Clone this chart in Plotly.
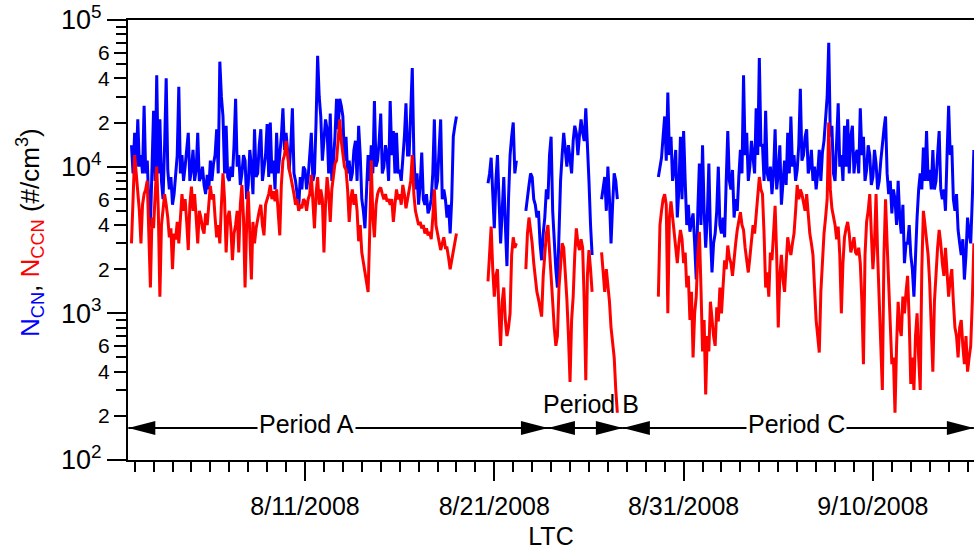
import plotly.graph_objects as go
from datetime import datetime, timedelta

# ---------------- data (2-hour steps) ----------------
STEP_HOURS = 2
segment_starts = ["2008-08-01 20:00", "2008-08-20 16:00", "2008-08-22 16:00",
                  "2008-08-26 16:00", "2008-08-29 16:00"]

ncn_A = [14000, 9000, 17000, 10000, 21000, 10000, 12000, 9000, 26000, 9000,
         11000, 5500, 3900, 9000, 24000, 8000, 42000, 9000, 21000, 8000,
         6000, 14000, 40000, 9500, 7000, 8500, 5500, 6500, 8500, 12000,
         35000, 9000, 12000, 8000, 10000, 12500, 17000, 8000, 9500, 13000,
         8000, 9500, 17000, 8000, 8500, 10000, 7500, 6500, 8800, 7000,
         11000, 8000, 10500, 12000, 18000, 9000, 52000, 30000, 22000, 9000,
         19000, 8500, 8000, 10000, 8500, 14000, 29000, 10000, 12000, 7500,
         9000, 12000, 11000, 6000, 7500, 13000, 10000, 6500, 18000, 8500,
         9000, 14000, 18000, 8000, 9500, 12000, 19500, 8500, 20000, 9000,
         11000, 7000, 17000, 9000, 12000, 16000, 25000, 13000, 17000, 13000,
         9500, 14000, 25000, 9000, 8000, 6500, 5300, 8500, 7000, 10000,
         9500, 7000, 8500, 12000, 17000, 8000, 9000, 20000, 57000, 30000,
         22000, 11000, 16000, 21000, 18000, 9000, 23000, 8000, 11000, 16000,
         29000, 18000, 29000, 26000, 22000, 11000, 16000, 9000, 11000, 8000,
         9000, 13000, 15000, 8000, 19000, 12000, 6000, 5000, 3800, 8000,
         12000, 8000, 14000, 9000, 28000, 10000, 11000, 15000, 23000, 9000,
         10000, 14000, 12000, 8000, 28000, 12000, 17500, 9000, 17000, 9000,
         9500, 8000, 11000, 16000, 27000, 12000, 12000, 22000, 47000, 12000,
         7000, 9000, 5500, 7500, 12500, 6000, 5500, 6500, 4800, 5200,
         6000, 9000, 21000, 7000, 8000, 13000, 21000, 6000, 7000, 6000,
         4500, 5500, 3500, 6000, 16000, 19000, 22000]
nccn_A = [3000, 7000, 12000, 9000, 7000, 5000, 3000, 5500, 6500, 7000,
          8000, 4000, 1500, 4500, 3800, 6500, 10000, 5000, 1300, 4000,
          5000, 6500, 5500, 4500, 3300, 3800, 2000, 3500, 3200, 4200,
          3000, 4500, 6500, 5000, 6000, 4200, 2700, 5500, 7300, 5000,
          6500, 4500, 3000, 5000, 4500, 3800, 3500, 4800, 4000, 5500,
          7400, 6000, 6500, 4500, 3300, 4000, 3000, 5500, 9000, 6000,
          2600, 4500, 5000, 3800, 2300, 3500, 4000, 5000, 2600, 5500,
          7500, 4500, 1500, 4000, 6800, 3500, 1700, 4200, 3000, 3800,
          4500, 5000, 5500, 4000, 3400, 5500, 6000, 6500, 7500, 6000,
          6800, 5800, 7000, 5000, 3400, 7500, 11000, 12000, 15000, 12000,
          9500, 8500, 7500, 6500, 5500, 6000, 5000, 5500, 5200, 6000,
          5800, 5000, 6000, 6500, 8800, 6000, 3800, 6500, 8500, 5500,
          7000, 6000, 2600, 5500, 8500, 6500, 4200, 7000, 9000, 10500,
          11000, 16000, 21000, 15000, 12000, 10000, 9500, 7000, 4200, 6000,
          7000, 5500, 6500, 5000, 3100, 4000, 2600, 2200, 1900, 1600,
          1400, 3500, 11000, 4500, 3300, 5500, 6500, 7000, 7200, 6500,
          6000, 6500, 5800, 6000, 5500, 6000, 4200, 5500, 7000, 6000,
          6500, 5500, 7500, 6500, 5200, 6000, 7000, 8000, 12000, 6500,
          5000, 4500, 4000, 4200, 3800, 4000, 3500, 3800, 3400, 3600,
          3200, 4500, 7000, 4000, 3500, 3200, 2700, 3000, 3300, 2800,
          2800, 2400, 2000, 2300, 2600, 3000, 3500]

ncn_B1 = [7700, 9000, 11500, 6000, 3800, 8000, 12000, 6000, 3000, 5000,
          8500, 4000, 2100, 6000, 12000, 16000, 20000, 9000, 11000]
nccn_B1 = [1650, 2500, 3900, 2000, 1300, 1800, 2000, 1000, 600, 1200,
           1500, 900, 700, 800, 1000, 2500, 3300, 2800, 3000]

ncn_B2 = [5000, 6500, 7500, 9000, 8500, 6000, 5500, 4500, 5000, 3000,
          2300, 3500, 4500, 7000, 6000, 12000, 16000, 5000, 3000, 2000,
          1500, 4500, 8000, 12000, 17000, 13000, 10000, 14000, 11000, 9000,
          15000, 19000, 17000, 12000, 16500, 21000, 17000, 15000, 25000, 12000,
          8000, 4000, 2500]
nccn_B2 = [2000, 3500, 4500, 3800, 3000, 2200, 1700, 1400, 1250, 1100,
           950, 1800, 2700, 3500, 4000, 2800, 2000, 1200, 800, 600,
           700, 1500, 2100, 3000, 2800, 2000, 1250, 700, 340, 900,
           1300, 2500, 3800, 3000, 2700, 3200, 2800, 1200, 350, 1800,
           2700, 2000, 1400]

ncn_B3 = [6000, 7000, 8500, 5000, 10000, 6000, 3000, 5500, 9000, 8000, 6000]
nccn_B3 = [2600, 1800, 1400, 2000, 1600, 1200, 800, 600, 500, 300, 210]

ncn_C = [8500, 10000, 11500, 16000, 22000, 11000, 32000, 12000, 16000, 8000,
         9500, 13000, 4500, 7000, 16000, 6000, 17500, 8000, 4000, 5500,
         3600, 4200, 4800, 3000, 1700, 5000, 10500, 4000, 14000, 5000,
         2800, 4500, 10500, 3500, 1900, 3000, 3500, 5000, 10000, 4000,
         3500, 4500, 3300, 8000, 17500, 8000, 7000, 9500, 4500, 6000,
         5000, 8500, 13000, 9000, 42000, 12000, 17000, 8000, 10000, 15000,
         12000, 9000, 25000, 12000, 55000, 14000, 14000, 8000, 24000, 9000,
         8000, 10000, 6500, 9000, 18000, 7000, 9000, 14000, 5500, 8000,
         11000, 7500, 17000, 9000, 22000, 10000, 12000, 8000, 9500, 14000,
         34000, 11000, 12000, 16000, 18000, 9000, 10000, 13000, 8000, 10000,
         7000, 9000, 13000, 8000, 12500, 15000, 20000, 30000, 70000, 16000,
         19000, 9000, 8000, 14000, 27000, 10000, 12000, 8000, 19000, 10000,
         21000, 9000, 16000, 19000, 9000, 12000, 13000, 9000, 25000, 12000,
         16000, 8000, 9500, 14000, 12000, 7500, 8500, 13000, 10500, 7000,
         8000, 11000, 15000, 18000, 22000, 9000, 6500, 8000, 4800, 7000,
         6000, 4000, 8000, 4500, 3500, 5500, 2200, 3000, 3000, 4000,
         2500, 2000, 1300, 2800, 4500, 7000, 9000, 7000, 13500, 8000,
         17500, 8000, 9500, 7000, 13000, 7000, 8000, 12000, 17500, 7000,
         6000, 7000, 5000, 12000, 26000, 12000, 14000, 6000, 5000, 6500,
         3700, 3000, 2500, 3200, 1700, 2500, 4500, 3500, 3000, 6000,
         13000]
nccn_C = [1300, 4000, 5000, 6000, 6500, 5500, 1000, 4500, 5800, 4500,
          3500, 2800, 2200, 3000, 3700, 3200, 2200, 2600, 1500, 1800,
          900, 1400, 500, 1000, 1300, 2500, 3600, 1500, 550, 900,
          280, 700, 550, 1200, 900, 700, 600, 1100, 880, 1500,
          1000, 1700, 2300, 2000, 2900, 2400, 2200, 1800, 2500, 3000,
          3700, 4200, 4900, 4000, 3700, 2800, 2200, 1900, 2400, 3200,
          4000, 3500, 4700, 6000, 8500, 7000, 6500, 3500, 1500, 1900,
          1300, 2600, 2300, 3500, 5400, 2500, 800, 1800, 2500, 1700,
          1400, 2200, 3300, 2800, 2500, 3000, 3500, 5000, 7500, 6000,
          7000, 6500, 5600, 5000, 6500, 4500, 3500, 3000, 2500, 1500,
          900, 700, 540, 1400, 2400, 3500, 4500, 6000, 20000, 7000,
          5200, 4500, 4000, 3200, 3900, 2500, 1000, 2200, 3300, 3800,
          4200, 3500, 2600, 2900, 3300, 2600, 2500, 2800, 2200, 1200,
          450, 2500, 4200, 5000, 6500, 3500, 2000, 3000, 6500, 2500,
          1300, 700, 300, 2500, 6000, 3000, 1700, 900, 450, 500,
          210, 600, 1200, 800, 700, 1300, 1000, 1400, 1800, 900,
          330, 500, 300, 700, 1000, 500, 300, 2000, 5000, 4000,
          3000, 2500, 1600, 900, 400, 1200, 2000, 2800, 3700, 3000,
          2200, 1800, 2800, 2000, 1300, 1700, 2000, 1200, 800, 700,
          500, 800, 900, 600, 450, 700, 400, 500, 600, 1200,
          3000]

ncn_segments = [ncn_A, ncn_B1, ncn_B2, ncn_B3, ncn_C]
nccn_segments = [nccn_A, nccn_B1, nccn_B2, nccn_B3, nccn_C]

period_names = ["Period A", "Period B", "Period C"]
period_start = ["2008-08-01 16:00", "2008-08-23 20:00", "2008-08-27 19:00"]
period_end = ["2008-08-23 20:00", "2008-08-27 19:00", "2008-09-15 08:00"]
period_level = 165
period_label_x = ["2008-08-11 02:30", "2008-08-26 02:00", "2008-09-05 22:30"]
period_label_y = [0.081, 0.128, 0.081]

x_range = ["2008-08-01 15:35", "2008-09-15 08:10"]

# ---------------- build series ----------------
step = timedelta(hours=STEP_HOURS)


def build(segments):
    xs, ys = [], []
    for start, vals in zip(segment_starts, segments):
        t0 = datetime.strptime(start, "%Y-%m-%d %H:%M")
        for k, v in enumerate(vals):
            xs.append(t0 + k * step)
            ys.append(v)
        xs.append(t0 + len(vals) * step)
        ys.append(None)
    return xs, ys


x_cn, y_cn = build(ncn_segments)
x_ccn, y_ccn = build(nccn_segments)

FONT = "Liberation Sans, Arial, sans-serif"

fig = go.Figure()
fig.add_trace(go.Scatter(x=x_cn, y=y_cn, mode="lines", line=dict(color="#0000ff", width=3),
                         connectgaps=False, showlegend=False, hoverinfo="skip"))
fig.add_trace(go.Scatter(x=x_ccn, y=y_ccn, mode="lines", line=dict(color="#ff0000", width=3),
                         connectgaps=False, showlegend=False, hoverinfo="skip"))
fig.add_trace(go.Scatter(x=[], y=[], yaxis="y2", showlegend=False, hoverinfo="skip"))

decades = [100, 1000, 10000, 100000]
decade_text = ["10<sup>2</sup>", "10<sup>3</sup>", "10<sup>4</sup>", "10<sup>5</sup>"]
labeled_minor = [m * d for d in decades[:-1] for m in (2, 4, 6)]
labeled_minor_text = [str(m) for d in decades[:-1] for m in (2, 4, 6)]
plain_minor = [m * d for d in decades[:-1] for m in (3, 5, 7, 8, 9)]

shapes = []
annotations = []
HEAD_LEN, HEAD_HALF = 27, 7
for name, s, e, lx, ly in zip(period_names, period_start, period_end, period_label_x, period_label_y):
    shapes.append(dict(type="line", xref="x", yref="y", x0=s, x1=e, y0=period_level, y1=period_level,
                       line=dict(color="black", width=2), layer="above"))
    shapes.append(dict(type="path", xref="x", yref="y", xsizemode="pixel", ysizemode="pixel",
                       xanchor=s, yanchor=period_level,
                       path=f"M0,0 L{HEAD_LEN},{HEAD_HALF} L{HEAD_LEN},{-HEAD_HALF} Z",
                       fillcolor="black", line=dict(width=0), layer="above"))
    shapes.append(dict(type="path", xref="x", yref="y", xsizemode="pixel", ysizemode="pixel",
                       xanchor=e, yanchor=period_level,
                       path=f"M0,0 L{-HEAD_LEN},{HEAD_HALF} L{-HEAD_LEN},{-HEAD_HALF} Z",
                       fillcolor="black", line=dict(width=0), layer="above"))
    annotations.append(dict(x=lx, y=ly, xref="x", yref="paper", text=name, showarrow=False,
                            font=dict(family=FONT, size=25, color="black"),
                            bgcolor="white" if name != "Period B" else "rgba(0,0,0,0)",
                            borderpad=1, xanchor="center", yanchor="middle"))

annotations.append(dict(
    x=-0.1158, y=0.516, xref="paper", yref="paper", textangle=-90, showarrow=False,
    text="<span style='color:#0000ff'>N<sub>CN</sub></span>, "
         "<span style='color:#ff0000'>N<sub>CCN</sub></span> (#/cm<sup>3</sup>)",
    font=dict(family=FONT, size=26, color="black"), xanchor="center", yanchor="middle"))

fig.update_layout(
    width=974, height=550,
    margin=dict(l=128, r=0, t=20, b=90),
    paper_bgcolor="white", plot_bgcolor="white",
    font=dict(family=FONT, color="black"),
    shapes=shapes, annotations=annotations,
    xaxis=dict(
        type="date", range=x_range, automargin=False,
        tickmode="linear", tick0="2008-08-01", dtick=10 * 86400000,
        tickformat="%-m/%-d/%Y", ticks="outside", ticklen=19, tickwidth=2, tickcolor="black",
        ticklabelstandoff=4,
        showline=True, linewidth=2, linecolor="black", mirror=True,
        showgrid=False, zeroline=False,
        tickfont=dict(family=FONT, size=25, color="black"),
        minor=dict(tick0="2008-08-01", dtick=86400000, ticks="outside", ticklen=10,
                   tickwidth=2, tickcolor="black", showgrid=False),
        title=dict(text="LTC", font=dict(family=FONT, size=25, color="black"), standoff=8),
    ),
    yaxis=dict(
        type="log", range=[2, 5], automargin=False,
        tickmode="array", tickvals=decades, ticktext=decade_text,
        ticks="outside", ticklen=19, tickwidth=2, tickcolor="black",
        showline=True, linewidth=2, linecolor="black",
        showgrid=False, zeroline=False,
        tickfont=dict(family=FONT, size=27, color="black"),
        minor=dict(tickmode="array", tickvals=plain_minor, ticks="outside", ticklen=10,
                   tickwidth=2, tickcolor="black", showgrid=False),
    ),
    yaxis2=dict(
        type="log", range=[2, 5], overlaying="y", anchor="x", side="left", automargin=False,
        tickmode="array", tickvals=labeled_minor, ticktext=labeled_minor_text,
        ticks="outside", ticklen=13, tickwidth=2, tickcolor="black",
        showline=False, showgrid=False, zeroline=False,
        tickfont=dict(family=FONT, size=21, color="black"),
    ),
)

fig.write_html("out.html")
